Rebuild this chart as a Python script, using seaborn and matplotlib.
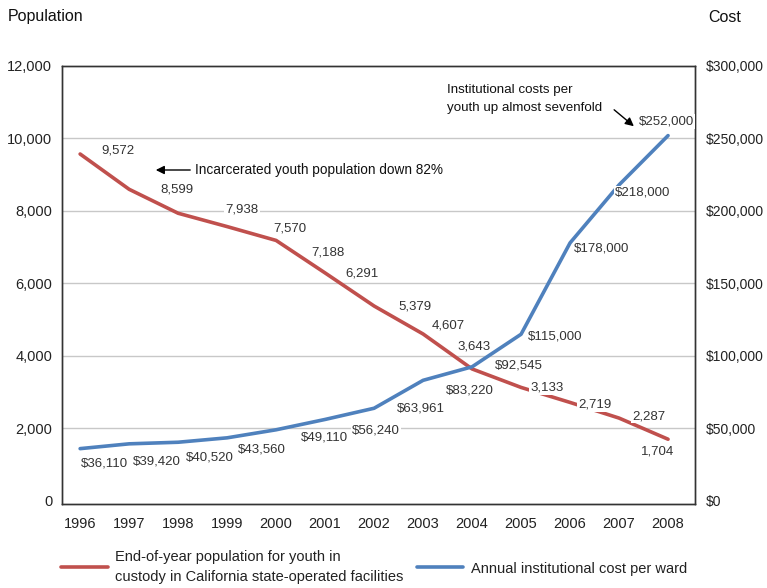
import matplotlib
matplotlib.use("Agg")
import matplotlib.pyplot as plt
import seaborn as sns
import pandas as pd
from matplotlib.lines import Line2D
from matplotlib.ticker import FuncFormatter

years = [1996, 1997, 1998, 1999, 2000, 2001, 2002, 2003, 2004, 2005, 2006, 2007, 2008]
population = [9572, 8599, 7938, 7570, 7188, 6291, 5379, 4607, 3643, 3133, 2719, 2287, 1704]
cost = [36110, 39420, 40520, 43560, 49110, 56240, 63961, 83220, 92545, 115000, 178000, 218000, 252000]
pop_ticks = [0, 2000, 4000, 6000, 8000, 10000, 12000]
cost_ticks = [0, 50000, 100000, 150000, 200000, 250000, 300000]
legend_labels = ["End-of-year population for youth in\ncustody in California state-operated facilities",
                 "Annual institutional cost per ward"]

RED = "#C0504D"
BLUE = "#4F81BD"

sns.set_style("white")
plt.rcParams["font.family"] = ["Liberation Sans", "DejaVu Sans"]

df = pd.DataFrame({"year": years, "population": population, "cost": cost})

fig = plt.figure(figsize=(7.67, 5.88), dpi=100)
ax = fig.add_axes([62/767, 1-504/588, (695-62)/767, (504-66)/588])
ax2 = ax.twinx()

sns.lineplot(data=df, x="year", y="population", ax=ax, color=RED, lw=2.6, zorder=3)
sns.lineplot(data=df, x="year", y="cost", ax=ax2, color=BLUE, lw=2.6, zorder=3)

ax.set_xlim(1995.63, 2008.55)
ax.set_ylim(-83, 12000)
ax2.set_ylim(-83*25, 300000)
ax.set_xticks(years)
ax.set_xticklabels([str(y) for y in years])
ax.set_yticks(pop_ticks)
ax.yaxis.set_major_formatter(FuncFormatter(lambda v, p: f"{int(v):,}"))
ax2.set_yticks(cost_ticks)
ax2.yaxis.set_major_formatter(FuncFormatter(lambda v, p: f"${int(v):,}"))
ax.set_xlabel("")
ax.set_ylabel("")
ax2.set_ylabel("")

for v in pop_ticks[1:-1]:
    ax.axhline(v, color="#c8c8c8", lw=1, zorder=0)

for a in (ax, ax2):
    for s in a.spines.values():
        s.set_color("#333333")
        s.set_linewidth(1.0)

ax.tick_params(axis="x", direction="in", length=9, width=1, color="#333333",
               labelsize=10.5, pad=9, labelcolor="#222222")
ax.tick_params(axis="y", length=0, labelsize=10.5, pad=7, labelcolor="#222222")
ax2.tick_params(axis="y", length=0, labelsize=10, pad=8, labelcolor="#222222")

# data labels (offsets in pixels)
pop_off = [(38, 4), (48, 0), (64, 4), (63, -2), (52, -12), (37, -1), (41, 0),
           (25, 8), (2, 22), (26, 0), (25, -2), (30, 2), (-10, -12)]
for x, y, (dx, dy) in zip(years, population, pop_off):
    ax.annotate(f"{y:,}", (x, y), xytext=(dx, dy), textcoords="offset pixels",
                ha="center", va="center", fontsize=9.5, color="#333333", zorder=5,
                bbox=dict(boxstyle="square,pad=0.1", fc="white", ec="none"))

cost_off = [(24, -15), (28, -18), (32, -15), (35, -12), (48, -8), (51, -11), (47, 0),
            (47, -10), (47, 1), (34, -2), (32, -6), (24, -8), (-2, 14)]
for x, y, (dx, dy) in zip(years, cost, cost_off):
    ax2.annotate(f"${y:,}", (x, y), xytext=(dx, dy), textcoords="offset pixels",
                 ha="center", va="center", fontsize=9.5, color="#333333", zorder=5,
                 bbox=dict(boxstyle="square,pad=0.1", fc="white", ec="none"))

# callouts
fig.text(195/767, 1-170/588, "Incarcerated youth population down 82%", fontsize=9.8,
         ha="left", va="center", color="#111111")
fig.add_artist(matplotlib.patches.FancyArrowPatch((193/767, 1-170/588), (153/767, 1-170/588),
               transform=fig.transFigure, arrowstyle="-|>,head_length=5,head_width=2.5",
               color="black", lw=1))
fig.text(447/767, 1-99/588, "Institutional costs per\nyouth up almost sevenfold", fontsize=9.6,
         ha="left", va="center", color="#111111", linespacing=1.6)
fig.add_artist(matplotlib.patches.FancyArrowPatch((612/767, 1-108/588), (636/767, 1-128/588),
               transform=fig.transFigure, arrowstyle="-|>,head_length=5,head_width=2.5",
               color="black", lw=1))

fig.text(8/767, 1-17/588, "Population", fontsize=11.5, ha="left", va="center", color="#111111")
fig.text(708/767, 1-17/588, "Cost", fontsize=11.5, ha="left", va="center", color="#111111")

handles = [Line2D([0], [0], color=RED, lw=2.6), Line2D([0], [0], color=BLUE, lw=2.6)]
leg = fig.legend(handles, legend_labels, loc="center left", bbox_to_anchor=(48/767, 1-567/588),
                 ncol=2, frameon=False, fontsize=10.5, handlelength=3.2, handletextpad=0.5,
                 columnspacing=0.9, labelcolor="#222222")
for t in leg.get_texts():
    t.set_linespacing(1.6)

fig.savefig("out.png", dpi=100)
